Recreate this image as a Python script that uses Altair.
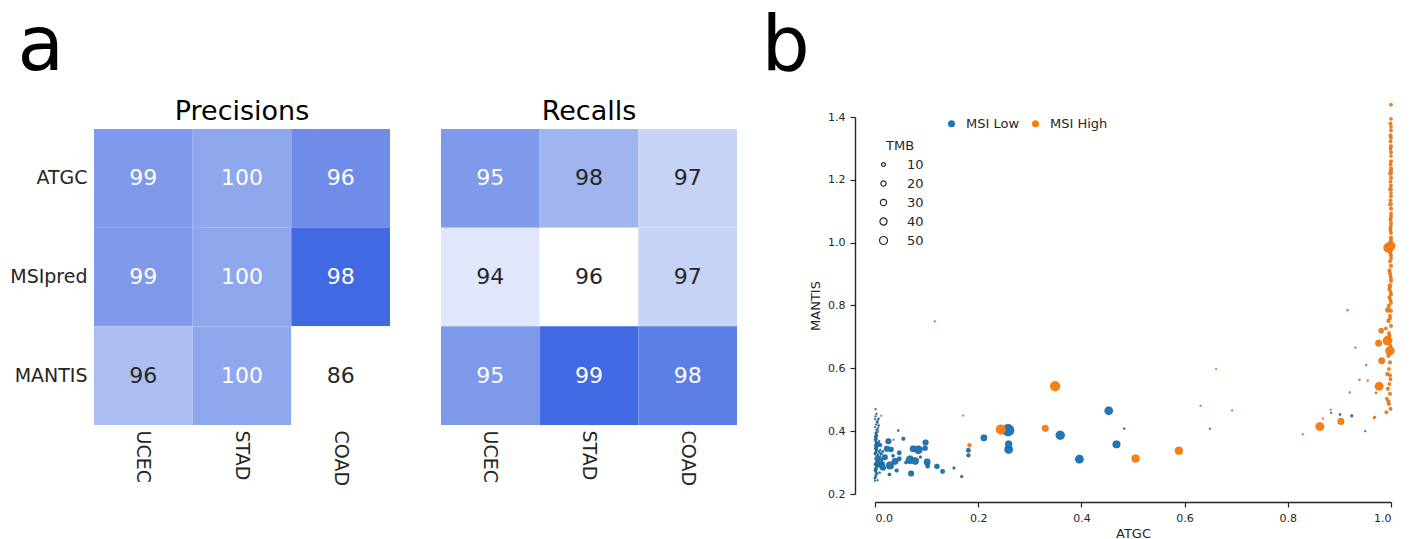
import altair as alt
import pandas as pd

FONT = "DejaVu Sans"
DARK = "#262626"

# ---------------- panel a data ----------------
methods = ["ATGC", "MSIpred", "MANTIS"]
cancers = ["UCEC", "STAD", "COAD"]
precision_values = [[99, 100, 96], [99, 100, 98], [96, 100, 86]]
precision_shade = [[0.674, 0.589, 0.758], [0.674, 0.589, 1.0], [0.437, 0.589, 0.0]]
recall_values = [[95, 98, 97], [94, 96, 97], [95, 99, 98]]
recall_shade = [[0.674, 0.50, 0.30], [0.158, 0.0, 0.30], [0.674, 1.0, 0.858]]

# ---------------- panel b data ----------------
low_atgc = [0.258, 0.259, 0.259, 0.211, 0.359, 0.453, 0.396, 0.468, 0.483, 0.181, 0.181,
            0.153, 0.168, 0.131, 0.120, 0.102, 0.101, 0.097, 0.098, 0.084, 0.078, 0.074,
            0.070, 0.068, 0.055, 0.047, 0.047, 0.045, 0.042, 0.039, 0.031, 0.029, 0.028,
            0.026, 0.023, 0.019, 0.013, 0.060, 0.088, 0.010, 0.016, 0.035,
            0.649, 0.884, 0.901, 0.924, 0.950,
            0.000, 0.001, 0.002, 0.003, 0.004, 0.005, 0.006, 0.007, 0.008, 0.009, 0.010,
            0.000, 0.001, 0.002, 0.003, 0.004, 0.005, 0.006, 0.007, 0.008, 0.011, 0.012,
            0.000, 0.001, 0.002, 0.003, 0.004, 0.005, 0.006, 0.007, 0.009, 0.010, 0.013,
            0.000, 0.001, 0.002, 0.003, 0.004, 0.005, 0.006, 0.008, 0.010, 0.012, 0.015,
            0.000, 0.001, 0.002, 0.003, 0.004, 0.005, 0.007, 0.009, 0.011, 0.000, 0.002,
            0.004, 0.001, 0.003, 0.000, 0.002, 0.006, 0.001, 0.000, 0.003, 0.005, 0.002,
            0.000, 0.002, 0.004, 0.001, 0.003, 0.005, 0.000, 0.002, 0.004, 0.001, 0.003,
            0.005, 0.000, 0.002, 0.004, 0.001, 0.003, 0.000, 0.002, 0.004, 0.001, 0.003,
            0.000, 0.002, 0.001, 0.003, 0.000, 0.002, 0.004, 0.001, 0.003, 0.006]
low_mantis = [0.403, 0.359, 0.342, 0.379, 0.387, 0.465, 0.311, 0.358, 0.408, 0.339, 0.323,
              0.283, 0.256, 0.272, 0.288, 0.289, 0.302, 0.346, 0.364, 0.341, 0.305, 0.344,
              0.265, 0.309, 0.376, 0.331, 0.312, 0.402, 0.275, 0.304, 0.342, 0.291, 0.262,
              0.368, 0.344, 0.317, 0.294, 0.300, 0.318, 0.356, 0.283, 0.322,
              0.408, 0.458, 0.453, 0.449, 0.400,
              0.250, 0.262, 0.271, 0.279, 0.286, 0.291, 0.297, 0.303, 0.309, 0.314, 0.320,
              0.326, 0.331, 0.337, 0.342, 0.347, 0.352, 0.357, 0.362, 0.368, 0.300, 0.312,
              0.374, 0.380, 0.385, 0.391, 0.397, 0.402, 0.410, 0.418, 0.288, 0.296, 0.306,
              0.276, 0.283, 0.293, 0.300, 0.308, 0.316, 0.324, 0.333, 0.340, 0.328, 0.335,
              0.345, 0.355, 0.365, 0.375, 0.385, 0.427, 0.440, 0.268, 0.281, 0.242, 0.350,
              0.362, 0.470, 0.455, 0.438, 0.256, 0.318, 0.371, 0.330, 0.304, 0.244, 0.290,
              0.253, 0.259, 0.265, 0.273, 0.281, 0.289, 0.295, 0.301, 0.307, 0.313, 0.319,
              0.325, 0.329, 0.334, 0.339, 0.344, 0.349, 0.354, 0.359, 0.364, 0.370,
              0.377, 0.383, 0.389, 0.395, 0.405, 0.413, 0.421, 0.430, 0.447, 0.277, 0.436]
low_tmb = [120, 41, 58, 34, 67, 58, 58, 49, 2, 16, 11,
           5, 5, 16, 21, 16, 34, 21, 27, 58, 41, 34,
           27, 58, 11, 16, 16, 2, 11, 34, 21, 49, 8,
           27, 27, 27, 34, 8, 5, 11, 21, 8,
           1, 1, 3, 5, 1,
           2, 1, 3, 2, 1, 4, 2, 1, 3, 2, 1,
           1, 3, 2, 4, 1, 2, 3, 1, 2, 4, 2,
           2, 1, 3, 1, 2, 1, 1, 2, 3, 5, 4,
           3, 2, 4, 1, 3, 2, 1, 3, 2, 5, 3,
           2, 1, 3, 1, 2, 1, 1, 2, 1, 1, 2,
           1, 1, 1, 1, 2, 1, 1, 2, 3, 1, 2,
           2, 1, 3, 2, 1, 2, 3, 1, 2, 3, 1,
           2, 1, 2, 3, 1, 2, 1, 3, 2, 1,
           2, 1, 2, 1, 2, 1, 1, 2, 1, 1, 1]

high_atgc = [0.349, 0.244, 0.330, 0.505, 0.589, 0.862, 0.903, 0.977, 0.982, 0.976, 0.993,
             0.998, 0.981, 0.994, 0.990, 0.995, 1.000, 0.183, 0.116, 0.171, 0.661, 0.631,
             0.692, 0.829, 0.916, 0.931, 0.952, 0.939, 0.955, 0.920, 0.883, 0.868, 0.967,
             0.969, 0.971, 0.012, 0.006, 0.036,
             1.000, 1.000, 0.999, 1.000, 0.999, 1.000, 1.000, 0.999, 1.000, 1.000, 0.999,
             1.000, 0.999, 1.000, 1.000, 0.999, 1.000, 0.999, 1.000, 1.000, 0.999, 1.000,
             0.999, 1.000, 1.000, 0.998, 0.999, 1.000, 0.998, 1.000, 0.997, 0.999, 1.000,
             0.998, 0.997, 1.000, 0.999, 0.996, 1.000, 0.998, 0.995, 1.000, 0.997, 0.999,
             0.995, 0.998, 0.996, 0.993, 0.999, 0.997, 0.994, 0.998, 0.992, 0.996, 0.999,
             0.991, 0.995, 0.998,
             1.000, 0.999, 1.000, 1.000, 0.999, 1.000, 0.999, 1.000, 1.000, 0.999, 1.000,
             0.999, 1.000, 0.998, 1.000, 0.999, 0.997, 1.000, 0.998, 0.996, 0.999]
high_mantis = [0.543, 0.405, 0.409, 0.313, 0.338, 0.415, 0.431, 0.543, 0.624, 0.680, 0.688,
               0.656, 0.720, 0.786, 0.727, 0.984, 0.990, 0.355, 0.750, 0.450, 0.598, 0.481,
               0.466, 0.390, 0.785, 0.666, 0.610, 0.563, 0.561, 0.523, 0.468, 0.440, 0.442,
               0.445, 0.522, 0.449, 0.399, 0.373,
               1.439, 1.394, 1.379, 1.357, 1.341, 1.333, 1.307, 1.298, 1.288, 1.259, 1.249,
               1.236, 1.220, 1.206, 1.182, 1.170, 1.148, 1.122, 1.108, 1.093, 1.074, 1.063,
               1.047, 1.031, 1.016, 1.000, 0.974, 0.958, 0.940, 0.926, 0.912, 0.894, 0.878,
               0.863, 0.852, 0.836, 0.817, 0.799, 0.783, 0.767, 0.751, 0.735, 0.704, 0.672,
               0.640, 0.619, 0.598, 0.582, 0.566, 0.550, 0.535, 0.519, 0.503, 0.487, 0.471,
               0.460, 0.495, 0.578,
               1.368, 1.322, 1.276, 1.228, 1.194, 1.158, 1.135, 1.084, 1.055, 1.039, 1.008,
               0.966, 0.948, 0.903, 0.886, 0.844, 0.826, 0.808, 0.759, 0.712, 0.689]
high_tmb = [78, 78, 34, 49, 49, 58, 34, 58, 34, 34, 67,
            67, 21, 21, 8, 78, 60, 11, 1, 1, 1, 1,
            1, 1, 2, 2, 2, 2, 2, 2, 1, 1, 2,
            2, 3, 1, 1, 1,
            8, 7, 9, 8, 10, 8, 9, 7, 8, 9, 8,
            10, 14, 9, 8, 14, 8, 14, 9, 8, 10, 8,
            9, 8, 10, 9, 11, 9, 8, 10, 9, 8, 9,
            14, 10, 9, 8, 10, 9, 8, 11, 9, 10, 8,
            9, 10, 8, 11, 9, 8, 10, 9, 8, 10, 9,
            8, 9, 8,
            7, 8, 7, 9, 8, 7, 8, 9, 7, 8, 9,
            8, 7, 9, 8, 7, 9, 8, 7, 8, 9]


def heat_frame(values, shades):
    rows = []
    for i, m in enumerate(methods):
        for j, c in enumerate(cancers):
            rows.append({"method": m, "cancer": c, "value": values[i][j], "shade": shades[i][j]})
    return pd.DataFrame(rows)


def heatmap(values, shades, title, show_rows, width, letter=None):
    df = heat_frame(values, shades)
    x = alt.X("cancer:N", sort=cancers,
              scale=alt.Scale(range=[0, 296], paddingInner=0, paddingOuter=0),
              axis=alt.Axis(title=None, labelAngle=90, labelFontSize=19, labelPadding=3,
                            domain=False, ticks=False, labelColor=DARK, labelFont=FONT))
    if show_rows:
        yaxis = alt.Axis(title=None, labelFontSize=19, labelPadding=7, domain=False,
                         ticks=False, labelColor=DARK, labelFont=FONT)
    else:
        yaxis = None
    y = alt.Y("method:N", sort=methods,
              scale=alt.Scale(range=[12, 308], paddingInner=0, paddingOuter=0), axis=yaxis)
    base = alt.Chart(df)
    rect = base.mark_rect().encode(
        x=x, y=y,
        fill=alt.Fill("shade:Q",
                      scale=alt.Scale(domain=[0, 1], range=["#ffffff", "#4169e1"], interpolate="rgb"),
                      legend=None))
    text = base.mark_text(fontSize=22, font=FONT).encode(
        x=x, y=y, text="value:Q",
        color=alt.condition(alt.datum.shade > 0.55, alt.value("white"), alt.value(DARK)))
    ttl = alt.Chart(pd.DataFrame({"t": [title]})).mark_text(
        fontSize=27, font=FONT, align="center", baseline="alphabetic", color="black"
    ).encode(text="t:N", x=alt.value(148), y=alt.value(3))
    layers = [rect, text, ttl]
    if letter:
        layers.append(alt.Chart(pd.DataFrame({"t": [letter]})).mark_text(
            fontSize=76, font=FONT, align="left", baseline="alphabetic", color="black"
        ).encode(text="t:N", x=alt.value(-76.5), y=alt.value(-47.5)))
    return alt.layer(*layers).properties(width=width, height=310)


prec = heatmap(precision_values, precision_shade, "Precisions", True, 296, letter="a")
rec = heatmap(recall_values, recall_shade, "Recalls", False, 383)

sc_df = pd.concat([
    pd.DataFrame({"ATGC": low_atgc, "MANTIS": low_mantis, "TMB": low_tmb, "MSI": "MSI Low"}),
    pd.DataFrame({"ATGC": high_atgc, "MANTIS": high_mantis, "TMB": high_tmb, "MSI": "MSI High"}),
], ignore_index=True)

ticks_x = [0.0, 0.2, 0.4, 0.6, 0.8, 1.0]
ticks_y = [0.2, 0.4, 0.6, 0.8, 1.0, 1.2, 1.4]
axis_common = dict(grid=False, tickSize=5, tickColor=DARK, domainColor=DARK, domainWidth=1.4,
                   tickWidth=1.2, labelFontSize=11, labelColor=DARK, titleFontSize=13,
                   titleColor=DARK, titleFontWeight="normal", labelFont=FONT, titleFont=FONT,
                   format=".1f")

points = alt.Chart(sc_df).mark_circle(
    opacity=1, stroke="#333333", strokeOpacity=0.3, strokeWidth=0.5
).encode(
    x=alt.X("ATGC:Q", scale=alt.Scale(domain=[0, 1], nice=False, zero=False),
            axis=alt.Axis(values=ticks_x, offset=8, labelPadding=5, titlePadding=4,
                          title="ATGC", **axis_common)),
    y=alt.Y("MANTIS:Q", scale=alt.Scale(domain=[0.2, 1.4], nice=False, zero=False),
            axis=alt.Axis(values=ticks_y, offset=20, labelPadding=5, titlePadding=5,
                          title="MANTIS", **axis_common)),
    color=alt.Color("MSI:N", sort=["MSI Low", "MSI High"],
                    scale=alt.Scale(domain=["MSI Low", "MSI High"], range=["#1f77b4", "#ff7f0e"]),
                    legend=alt.Legend(orient="none", legendX=70, legendY=0, direction="horizontal",
                                      title=None, symbolType="circle", symbolSize=50,
                                      symbolStrokeWidth=0, labelFontSize=13, labelFont=FONT,
                                      labelColor=DARK, labelOffset=8, columnPadding=9)),
    size=alt.Size("TMB:Q", scale=alt.Scale(domain=[0, 100], range=[3, 125], zero=False),
                  legend=alt.Legend(orient="none", legendX=2, legendY=23, title="TMB",
                                    values=[10, 20, 30, 40, 50], titleFontSize=13,
                                    titleFontWeight="normal", titleFont=FONT, titleColor=DARK,
                                    titleAnchor="middle", titlePadding=5,
                                    labelFontSize=13, labelFont=FONT, labelColor=DARK,
                                    labelOffset=17, rowPadding=5, symbolType="circle",
                                    symbolFillColor="white", symbolStrokeColor=DARK,
                                    symbolStrokeWidth=1.2)),
    order=alt.Order("TMB:Q", sort="descending"),
)

letter_b = alt.Chart(pd.DataFrame({"t": ["b"]})).mark_text(
    fontSize=76, font=FONT, align="left", baseline="alphabetic", color="black"
).encode(text="t:N", x=alt.value(-113.5), y=alt.value(-47.5))

scatter = alt.layer(points, letter_b).properties(width=516, height=377)

chart = alt.hconcat(prec, rec, scatter, spacing=51, bounds="flush").resolve_scale(
    x="independent", y="independent", color="independent", fill="independent", size="independent"
).configure(
    font=FONT, padding={"left": 1, "top": 0, "right": 5, "bottom": 5}
).configure_view(strokeWidth=0)

chart.save("out.html", embed_options={"renderer": "svg", "actions": False})
